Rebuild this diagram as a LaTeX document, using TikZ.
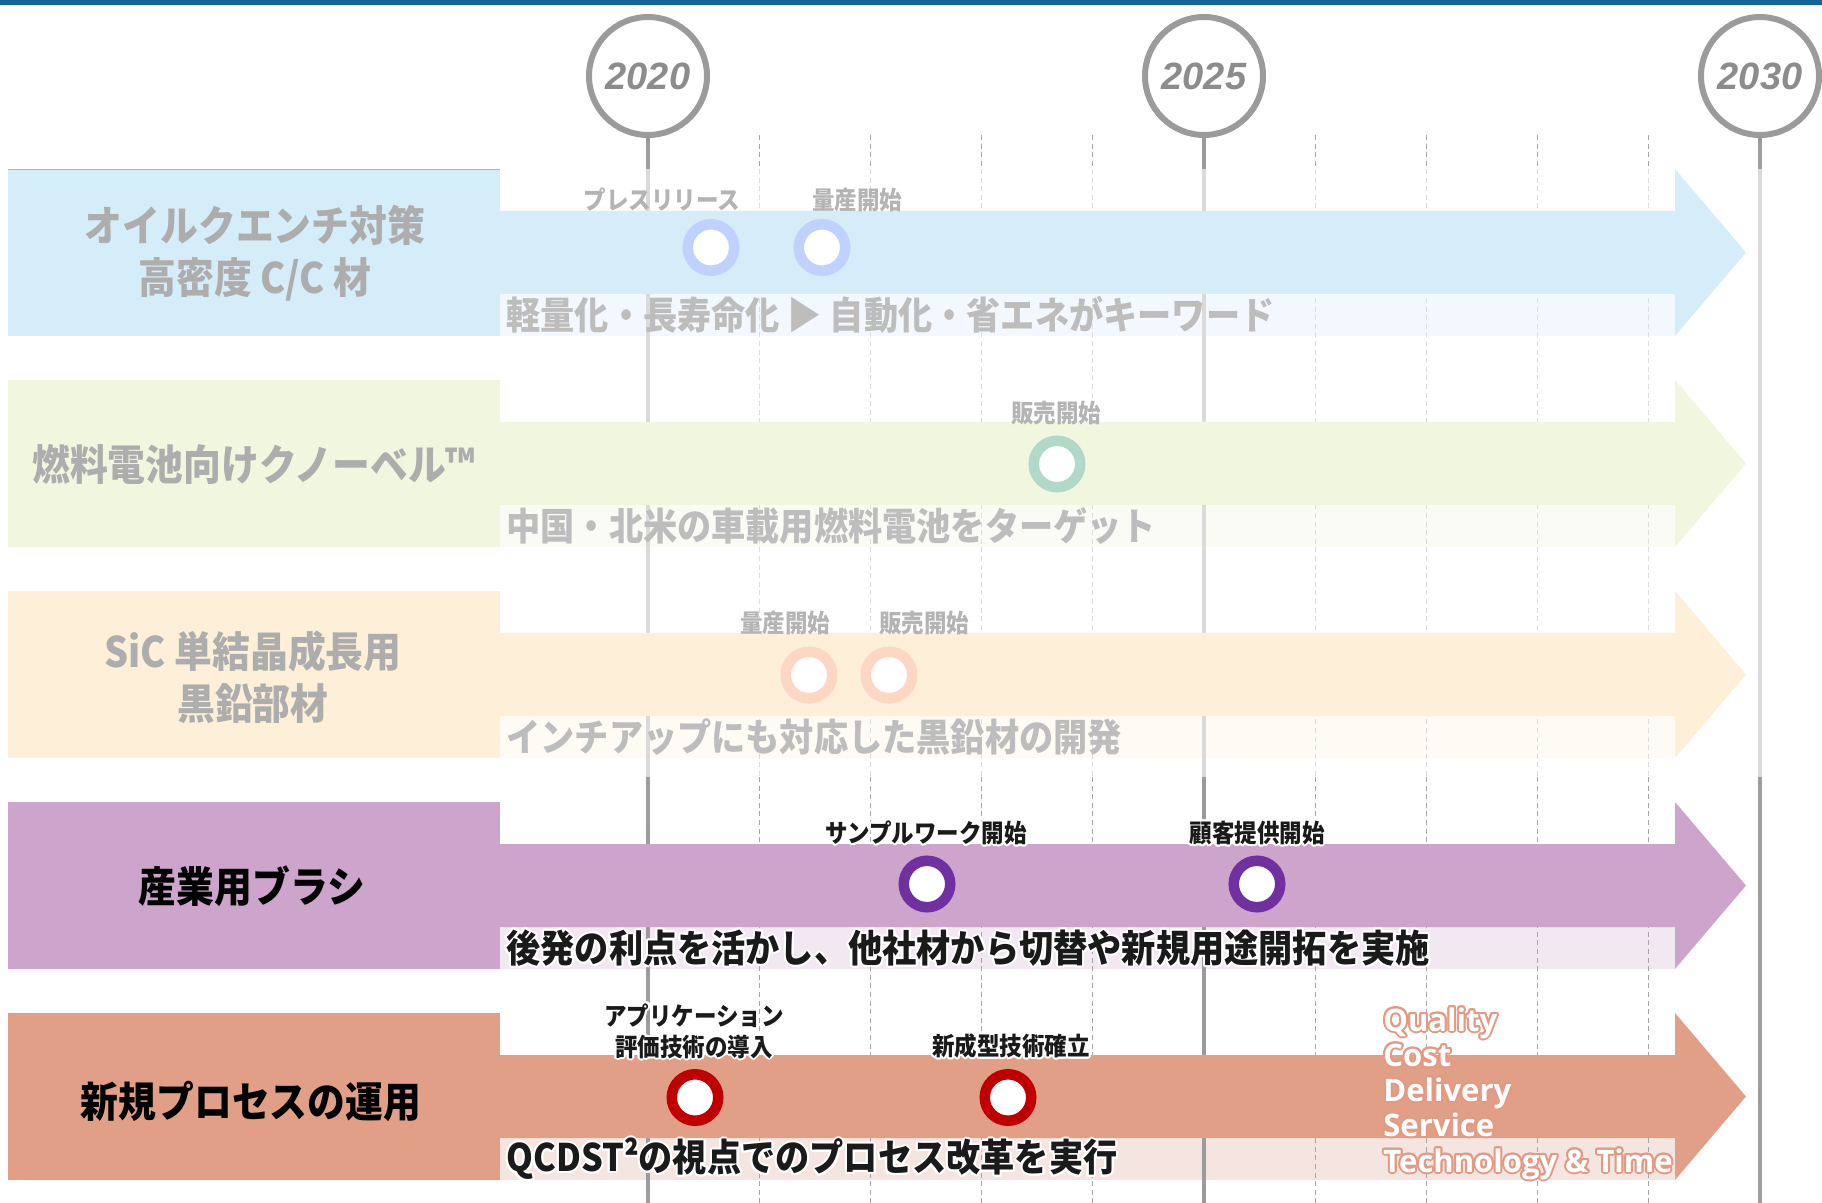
\documentclass[tikz,border=0pt]{standalone}
\usepackage{fontspec}
\usepackage[copies]{contour}
\contourlength{1pt}
\newfontfamily\jp{Noto Sans CJK JP}[FakeStretch=0.9]
\newfontfamily\yearfont{Liberation Sans}
\newfontfamily\qfont{Open Sans}
\definecolor{topbar}{HTML}{17649A}
\definecolor{hdrA}{HTML}{D5ECF9}\definecolor{bandA}{HTML}{F2F8FD}\definecolor{lineA}{HTML}{7DC3EB}\definecolor{ringA}{HTML}{C0D1FD}
\definecolor{hdrB}{HTML}{F1F6DF}\definecolor{bandB}{HTML}{FAFBF5}\definecolor{ringB}{HTML}{B2D9C7}
\definecolor{hdrC}{HTML}{FDEFD8}\definecolor{bandC}{HTML}{FEFBF5}\definecolor{ringC}{HTML}{FDD6C4}
\definecolor{hdrD}{HTML}{CDA4CB}\definecolor{bandD}{HTML}{F2E8F1}\definecolor{ringD}{HTML}{7030A0}
\definecolor{hdrE}{HTML}{E29F87}\definecolor{bandE}{HTML}{F5E5E0}\definecolor{ringE}{HTML}{C00000}
\definecolor{gridD}{HTML}{A6A6A6}\definecolor{gridL}{HTML}{DDDDDD}
\definecolor{stemD}{HTML}{9B9B9B}\definecolor{stemL}{HTML}{DADADA}
\definecolor{fadeT}{HTML}{ADADAD}\definecolor{fadeS}{HTML}{BDBDBD}\definecolor{fadeL}{HTML}{B4B4B4}
\definecolor{txt}{HTML}{1A1A1A}\definecolor{qglow}{HTML}{E39A83}\definecolor{yeartxt}{HTML}{8C8C8C}
\begin{document}
\begin{tikzpicture}[x=0.5pt,y=-0.5pt,
  yearc/.style={circle, draw=stemD, line width=3pt, fill=white, minimum size=59pt, inner sep=0pt,
    text=yeartxt, font=\yearfont\bfseries\itshape\fontsize{19pt}{22pt}\selectfont},
  gridline/.style={line width=0.6pt, dash pattern=on 2.5pt off 1.8pt},
  stemline/.style={line width=1.8pt},
  ms/.style={circle, line width=5.25pt, fill=white, minimum size=23.25pt, inner sep=0pt},
  ttl/.style={font=\jp\bfseries\fontsize{21pt}{26pt}\selectfont, align=center, inner sep=0pt},
  sub/.style={font=\jp\bfseries\fontsize{19pt}{22pt}\selectfont, anchor=west, inner sep=0pt},
  lab/.style={font=\jp\bfseries\fontsize{12.5pt}{15.5pt}\selectfont, align=center, inner sep=0pt},
  qtxt/.style={font=\qfont\bfseries\fontsize{15.5pt}{17.5pt}\selectfont, anchor=base west, inner sep=0pt, text=white}]
\useasboundingbox (0,0) rectangle (1822,1203);
\fill[white] (0,0) rectangle (1822,1203);
\fill[topbar] (0,0) rectangle (1822,5);
% bands
\foreach \T/\bc in {169/bandA,380/bandB,591/bandC,802/bandD,1013/bandE}
  \fill[\bc] (500,{\T+125}) rectangle (1675,{\T+167});
% yearly dashed grid
\foreach \n in {1,2,3,4,6,7,8,9}{
  \pgfmathsetmacro\xx{648+111.2*\n}
  \draw[gridline, gridD] (\xx,135) -- (\xx,169);
  \draw[gridline, gridL] (\xx,169) -- (\xx,777);
  \draw[gridline, gridD] (\xx,777) -- (\xx,1203);
}
% year markers
\node[yearc] (y2020) at (648,76) {2020};
\node[yearc] (y2025) at (1204,76) {2025};
\node[yearc] (y2030) at (1760,76) {2030};
\coordinate (e2020) at (648,1203);
\coordinate (e2025) at (1204,1203);
\coordinate (e2030) at (1760,1203);
\draw[stemline, stemD] (y2020.south) -- (e2020);
\draw[stemline, stemD] (y2025.south) -- (e2025);
\draw[stemline, stemD] (y2030.south) -- (e2030);
\foreach \xx in {648,1204,1760}
  \draw[stemline, stemL] (\xx,169) -- (\xx,777);
% lanes
\foreach \T/\hc in {169/hdrA,380/hdrB,591/hdrC,802/hdrD,1013/hdrE}{
  \fill[\hc] (8,\T) rectangle (500,{\T+167});
  \fill[\hc] (500,{\T+42}) -- (1675,{\T+42}) -- (1675,\T) -- (1746,{\T+83.5})
    -- (1675,{\T+167}) -- (1675,{\T+125}) -- (500,{\T+125}) -- cycle;
}
\draw[lineA, line width=0.8pt] (8,169.5) -- (500,169.5);
% row 1
\node[ttl, text=fadeT] (t1) at (255,253) {オイルクエンチ対策\\高密度 C/C 材};
\node[lab, text=fadeL] (l11) at (662,200) {プレスリリース};
\node[lab, text=fadeL] (l12) at (857,200) {量産開始};
\node[ms, draw=ringA] (m11) at (711,247.5) {};
\node[ms, draw=ringA] (m12) at (822,247.5) {};
\node[sub, text=fadeS] (s1) at (506,315) {軽量化・長寿命化 ▶ 自動化・省エネがキーワード};
% row 2
\node[ttl, text=fadeT] (t2) at (254,464) {燃料電池向けクノーベル™};
\node[lab, text=fadeL] (l21) at (1056,413) {販売開始};
\node[ms, draw=ringB] (m21) at (1057,464) {};
\node[sub, text=fadeS] (s2) at (506,526) {中国・北米の車載用燃料電池をターゲット};
% row 3
\node[ttl, text=fadeT] (t3) at (253,677) {SiC 単結晶成長用\\黒鉛部材};
\node[lab, text=fadeL] (l31) at (785,623) {量産開始};
\node[lab, text=fadeL] (l32) at (924,623) {販売開始};
\node[ms, draw=ringC] (m31) at (809,675) {};
\node[ms, draw=ringC] (m32) at (889,675) {};
\node[sub, text=fadeS] (s3) at (506,737) {インチアップにも対応した黒鉛材の開発};
% row 4
\node[ttl, text=black] (t4) at (252,886) {産業用ブラシ};
\node[lab, text=txt] (l41) at (926,834) {\contour{white}{サンプルワーク開始}};
\node[lab, text=txt] (l42) at (1257,834) {\contour{white}{顧客提供開始}};
\node[ms, draw=ringD] (m41) at (927,884) {};
\node[ms, draw=ringD] (m42) at (1257,884) {};
\node[sub, text=txt] (s4) at (506,949) {\contour{white}{後発の利点を活かし、他社材から切替や新規用途開拓を実施}};
% row 5
\node[ttl, text=black] (t5) at (251,1101) {新規プロセスの運用};
\node[lab, text=txt] (l51) at (694,1032) {\contour{white}{アプリケーション}\\\contour{white}{評価技術の導入}};
\node[lab, text=txt] (l52) at (1011,1047) {\contour{white}{新成型技術確立}};
\node[ms, draw=ringE] (m51) at (695,1097.5) {};
\node[ms, draw=ringE] (m52) at (1008,1097.5) {};
\node[sub, text=txt] (s5) at (506,1160) {\contour{white}{QCDST²の視点でのプロセス改革を実行}};
\node[qtxt] (q1) at (1383,1031) {\contour{qglow}{Quality}};
\node[qtxt] (q2) at (1383,1066) {\contour{qglow}{Cost}};
\node[qtxt] (q3) at (1383,1101) {\contour{qglow}{Delivery}};
\node[qtxt] (q4) at (1383,1136) {\contour{qglow}{Service}};
\node[qtxt] (q5) at (1383,1172) {\contour{qglow}{Technology \& Time}};
\end{tikzpicture}
\end{document}
